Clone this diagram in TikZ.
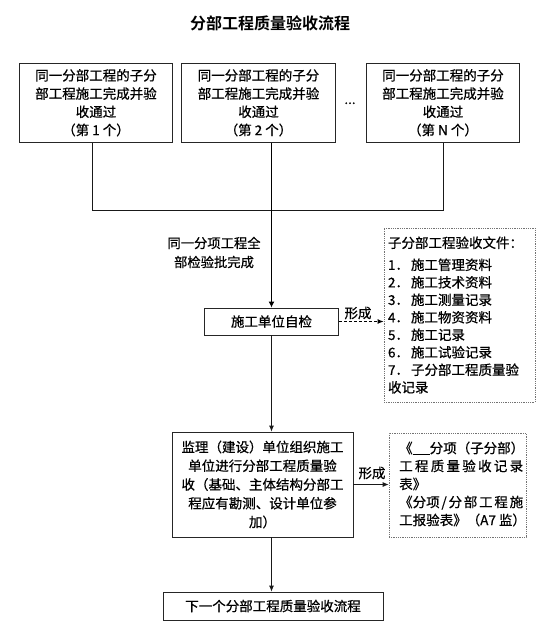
\documentclass[tikz,border=0pt]{standalone}
\usepackage{fontspec}
\setmainfont{Noto Sans CJK SC}[FakeBold=0.6, BoldFont={Noto Sans CJK SC Bold}, BoldFeatures={FakeBold=0}]
\usetikzlibrary{arrows.meta}
\begin{document}
\begin{tikzpicture}[x=1pt,y=-1pt,
  every node/.style={inner sep=0pt, font=\fontsize{13.5}{18.2}\selectfont},
  box/.style={draw=black!85, line width=0.8pt, align=center},
  dbox/.style={draw=black!55, line width=0.7pt, dash pattern=on 0.9pt off 0.9pt},
  conn/.style={draw=black!90, line width=0.8pt},
  arr/.style={conn, -{Latex[length=6pt,width=5pt]}},
  thick arrow/.style={draw=black, line width=1.8pt, -{Latex[length=6pt,width=6pt]}},
  dash arrow/.style={draw=black, line width=1pt, dash pattern=on 3pt off 2pt, -{Latex[length=6pt,width=5pt]}},
]
\useasboundingbox (0,0) rectangle (553,630);

\node[font=\bfseries\fontsize{16}{18}\selectfont] (title) at (270,23) {分部工程质量验收流程};

\node[box, minimum width=153.4pt, minimum height=79.5pt] (b1) at (96,102.75)
  {同一分部工程的子分\\部工程施工完成并验\\收通过\\（第 1 个）};
\node[box, minimum width=153.6pt, minimum height=79.5pt] (b2) at (258.5,102.75)
  {同一分部工程的子分\\部工程施工完成并验\\收通过\\（第 2 个）};
\node[box, minimum width=153.4pt, minimum height=79.5pt] (b3) at (443,102.75)
  {同一分部工程的子分\\部工程施工完成并验\\收通过\\（第 N 个）};
\node[anchor=base] (dots) at (350,104) {...};

\coordinate (jL) at (92,210);
\coordinate (jR) at (443,210);
\draw[conn] (b1.south -| jL) -- (jL) -- (jR) -- (b3.south -| jR);

\node[box, minimum width=134pt, minimum height=27pt] (sg) at (271.5,321.5) {施工单位自检};
\draw[thick arrow] (b2.south -| sg.north) -- (sg.north);

\node[align=center, font=\fontsize{13.3}{19}\selectfont] (lab) at (214,252.5) {同一分项工程全\\部检验批完成};

\node[dbox, text width=143pt, inner xsep=4pt, minimum height=174pt, align=left,
      font=\fontsize{13.5}{17.5}\selectfont] (d1) at (459.5,315)
  {子分部工程验收文件：\\[4.5pt]
   1．\hspace{2pt}施工管理资料\\
   2．\hspace{2pt}施工技术资料\\
   3．\hspace{2pt}施工测量记录\\
   4．\hspace{2pt}施工物资资料\\
   5．\hspace{2pt}施工记录\\
   6．\hspace{2pt}施工试验记录\\
   7．\hspace{2pt}子分部工程质量验\\
   收记录};
\draw[dash arrow] (sg.east) -- (sg.east -| d1.west);
\node (f1) at (358,313) {形成};

\node[box, minimum width=181pt, minimum height=105pt, font=\fontsize{13.5}{18.75}\selectfont] (jl) at (262.5,484.5)
  {监理（建设）单位组织施工\\单位进行分部工程质量验\\收（基础、主体结构分部工\\程应有勘测、设计单位参\\加）};
\draw[arr] (sg.south) -- (sg.south |- jl.north);

\node[dbox, minimum width=137pt, minimum height=104pt] (d2) at (457.5,485) {};
\node[align=left, anchor=west, font=\fontsize{13.5}{18}\selectfont] (d2t) at (399,484)
  {《\underline{\hspace{17pt}}分项（子分部）\\
   \makebox[124pt][s]{工\hfill 程\hfill 质\hfill 量\hfill 验\hfill 收\hfill 记\hfill 录}\\
   表》\\
   \makebox[124pt][s]{《分项\hfill /\hfill 分\hfill 部\hfill 工\hfill 程\hfill 施}\\
   工报验表》（A7 监）};
\draw[arr] (jl.east) -- (jl.east -| d2.west);
\node (f2) at (372,473) {形成};

\node[box, minimum width=220pt, minimum height=28pt] (nx) at (273,606) {下一个分部工程质量验收流程};
\draw[arr] (jl.south -| sg.south) -- (nx.north -| sg.south);
\end{tikzpicture}
\end{document}
